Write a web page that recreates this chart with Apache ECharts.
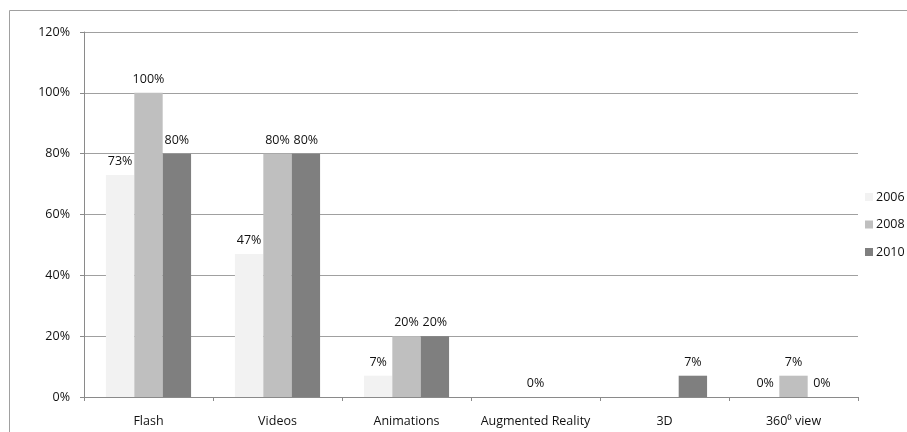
<!DOCTYPE html>
<html>
<head>
<meta charset="utf-8">
<script src="https://cdn.jsdelivr.net/npm/echarts@6/dist/echarts.min.js"></script>
<style>
html,body{margin:0;padding:0;background:#fff;}
#c{width:907px;height:432px;}
</style>
</head>
<body>
<div id="c"></div>
<script>
const categories = ['Flash', 'Videos', 'Animations', 'Augmented Reality', '3D', '360\u2070 view'];
const seriesNames = ['2006', '2008', '2010'];
const values2006 = [73, 47, 7, null, null, 0];
const values2008 = [100, 80, 20, 0, null, 7];
const values2010 = [80, 80, 20, null, 7, 0];
const yTicks = { min: 0, max: 120, interval: 20 };
const colors = ['#f2f2f2', '#bfbfbf', '#7f7f7f'];

const font = 'Open Sans';
const chart = echarts.init(document.getElementById('c'), null, { renderer: 'canvas' });
const dataSets = [values2006, values2008, values2010];

chart.setOption({
  animation: false,
  backgroundColor: '#fff',
  graphic: [{
    type: 'rect',
    shape: { x: 9.5, y: 10.5, width: 1000, height: 1000 },
    style: { fill: 'none', stroke: '#a0a0a0', lineWidth: 1 },
    silent: true
  }],
  grid: { left: 84, right: 49, top: 32, bottom: 35 },
  legend: {
    orient: 'vertical',
    left: 860,
    top: 184,
    itemWidth: 8,
    itemHeight: 8,
    itemGap: 11.5,
    icon: 'rect',
    textStyle: { fontFamily: font, fontSize: 12.5, color: '#111', padding: [0, 0, 0, -2], lineHeight: 16 },
    data: seriesNames
  },
  xAxis: {
    type: 'category',
    data: categories,
    axisLine: { lineStyle: { color: '#8a8a8a', width: 1 } },
    axisTick: { show: true, length: 4, lineStyle: { color: '#8a8a8a' } },
    axisLabel: { fontFamily: font, fontSize: 12.5, color: '#111', margin: 18, interval: 0 }
  },
  yAxis: {
    type: 'value',
    min: yTicks.min,
    max: yTicks.max,
    interval: yTicks.interval,
    axisLine: { show: true, lineStyle: { color: '#8a8a8a', width: 1 } },
    axisTick: { show: true, length: 4, lineStyle: { color: '#8a8a8a' } },
    axisLabel: { fontFamily: font, fontSize: 12.5, color: '#111', margin: 14, formatter: '{value}%' },
    splitLine: { lineStyle: { color: '#a0a0a0', width: 1 } }
  },
  series: seriesNames.map((name, i) => ({
    name: name,
    type: 'bar',
    data: dataSets[i],
    barGap: '0%',
    barCategoryGap: '34%',
    itemStyle: { color: colors[i] },
    label: {
      show: true,
      position: 'top',
      distance: 7,
      fontFamily: font,
      fontSize: 12.5,
      color: '#111',
      formatter: p => (p.value === null || p.value === undefined) ? '' : p.value + '%'
    }
  }))
});
</script>
</body>
</html>
